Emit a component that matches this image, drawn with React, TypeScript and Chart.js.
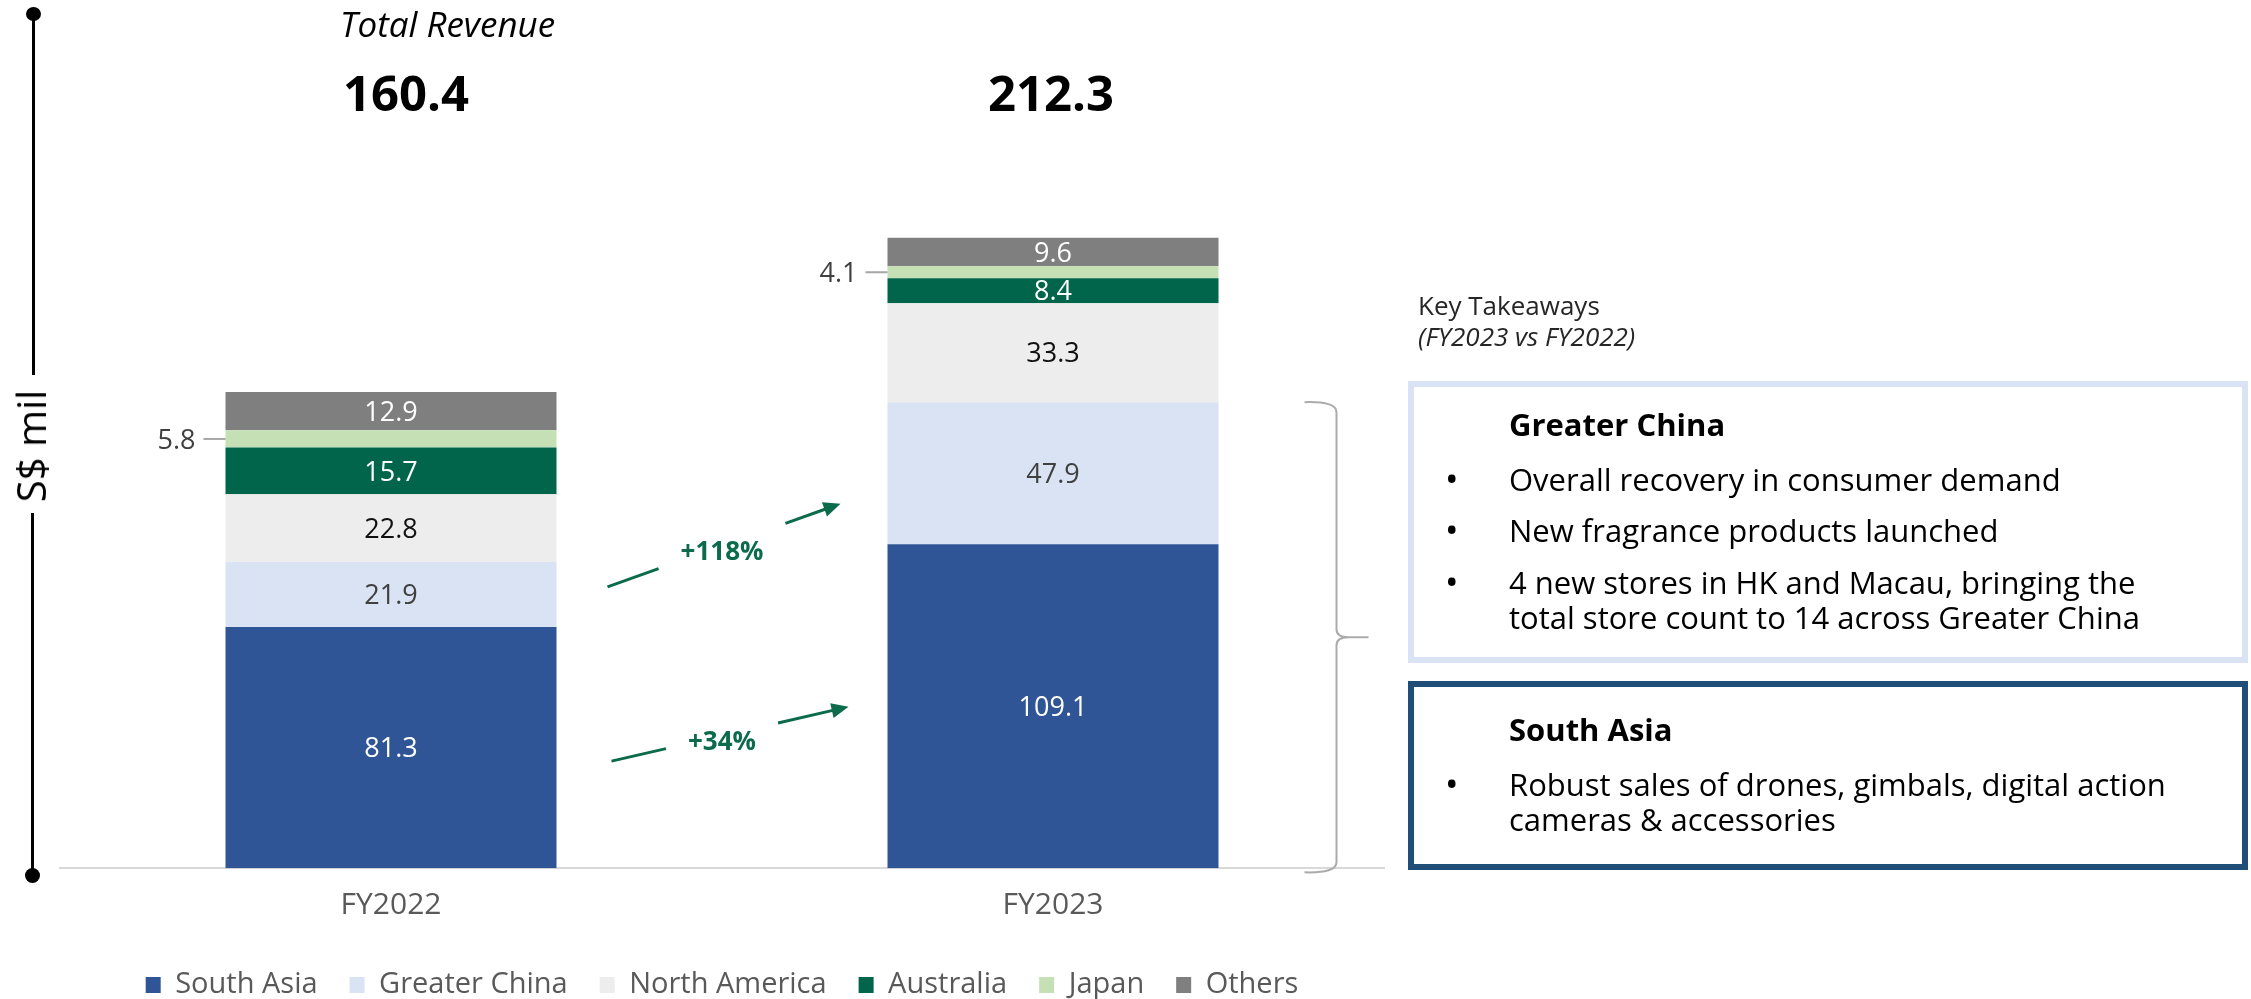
import React, { useEffect, useRef } from "react";
import { Chart, registerables } from "chart.js";

Chart.register(...registerables);

// ---------- data ----------
const categories = ["FY2022", "FY2023"];
const seriesNames = ["South Asia", "Greater China", "North America", "Australia", "Japan", "Others"];
const southAsia = [81.3, 109.1];
const greaterChina = [21.9, 47.9];
const northAmerica = [22.8, 33.3];
const australia = [15.7, 8.4];
const japan = [5.8, 4.1];
const others = [12.9, 9.6];
const totalRevenue = [160.4, 212.3];
const growthSouthAsia = "+34%";
const growthGreaterChina = "+118%";

// ---------- styles ----------
const FONT = "'Open Sans', 'Noto Sans', sans-serif";
const seriesColors = ["#2F5597", "#DAE3F3", "#EDEDED", "#00654A", "#C5E0B4", "#7F7F7F"];
const labelColors = ["#FFFFFF", "#404040", "#111111", "#FFFFFF", "#404040", "#FFFFFF"];
const totalOffsets = [15, -2];
const GREEN = "#0B6B4A";
const Y_MAX = 250;

const overlayPlugin = {
  id: "overlay",
  afterDatasetsDraw(chart: any) {
    const { ctx } = chart;
    const x = chart.scales.x;
    const y = chart.scales.y;
    ctx.save();

    // segment labels
    chart.data.datasets.forEach((ds: any, di: number) => {
      const meta = chart.getDatasetMeta(di);
      meta.data.forEach((bar: any, i: number) => {
        const v = ds.data[i] as number;
        const p = bar.getProps(["x", "y", "base", "width"], true);
        const cy = (p.y + p.base) / 2;
        const size = 27;
        ctx.font = `${size}px ${FONT}`;
        ctx.textBaseline = "alphabetic";
        const baseY = cy + 0.357 * size;
        if (di === 4) {
          const left = p.x - p.width / 2;
          ctx.strokeStyle = "#A6A6A6";
          ctx.lineWidth = 2;
          ctx.beginPath();
          ctx.moveTo(left - 22, cy);
          ctx.lineTo(left, cy);
          ctx.stroke();
          ctx.fillStyle = "#404040";
          ctx.textAlign = "right";
          ctx.fillText(v.toFixed(1), left - 30, baseY);
        } else {
          ctx.fillStyle = labelColors[di];
          ctx.textAlign = "center";
          ctx.fillText(v.toFixed(1), p.x, baseY);
        }
      });
    });

    // totals
    ctx.font = `bold 49px ${FONT}`;
    ctx.fillStyle = "#000000";
    ctx.textAlign = "center";
    totalRevenue.forEach((t, i) => {
      ctx.fillText(t.toFixed(1), x.getPixelForValue(i) + totalOffsets[i], 94 + 0.357 * 49);
    });

    // growth arrows
    const b0 = chart.getDatasetMeta(0).data[0].getProps(["x", "width"], true);
    const b1 = chart.getDatasetMeta(0).data[1].getProps(["x", "width"], true);
    const r0 = b0.x + b0.width / 2;
    const l1 = b1.x - b1.width / 2;
    const midX = (r0 + l1) / 2;
    const arrows = [
      { x0: r0 + 55, x1: l1 - 39, v0: 36.1, v1: 54.4, label: growthSouthAsia },
      { x0: r0 + 51, x1: l1 - 47, v0: 94.8, v1: 122.8, label: growthGreaterChina },
    ];
    arrows.forEach((a) => {
      const y0 = y.getPixelForValue(a.v0);
      const y1 = y.getPixelForValue(a.v1);
      const slope = (y1 - y0) / (a.x1 - a.x0);
      const lineY = (xx: number) => y0 + slope * (xx - a.x0);
      ctx.font = `bold 26px ${FONT}`;
      const tw = ctx.measureText(a.label).width;
      const g0 = midX - tw / 2 - 22;
      const g1 = midX + tw / 2 + 22;
      ctx.strokeStyle = GREEN;
      ctx.fillStyle = GREEN;
      ctx.lineWidth = 3;
      ctx.lineCap = "butt";
      ctx.beginPath();
      ctx.moveTo(a.x0, y0);
      ctx.lineTo(g0, lineY(g0));
      ctx.moveTo(g1, lineY(g1));
      const ang = Math.atan2(y1 - y0, a.x1 - a.x0);
      const headLen = 17;
      const hx = a.x1 - headLen * Math.cos(ang);
      const hy = y1 - headLen * Math.sin(ang);
      ctx.lineTo(hx + 2 * Math.cos(ang), hy + 2 * Math.sin(ang));
      ctx.stroke();
      const hw = 7.5;
      ctx.beginPath();
      ctx.moveTo(a.x1, y1);
      ctx.lineTo(hx + hw * Math.sin(ang), hy - hw * Math.cos(ang));
      ctx.lineTo(hx - hw * Math.sin(ang), hy + hw * Math.cos(ang));
      ctx.closePath();
      ctx.fill();
      ctx.textAlign = "center";
      ctx.fillText(a.label, midX, lineY(midX) + 5 + 0.357 * 26);
    });

    // curly brace next to FY2023 (Greater China + South Asia)
    const topY = y.getPixelForValue(southAsia[1] + greaterChina[1]);
    const botY = y.getPixelForValue(0) + 4;
    const r1 = b1.x + b1.width / 2;
    const xs = r1 + 86;
    const xv = r1 + 118;
    const xt = r1 + 150;
    const mid = (topY + botY) / 2;
    ctx.strokeStyle = "#ABABAB";
    ctx.lineWidth = 2;
    ctx.beginPath();
    ctx.moveTo(xs, topY);
    ctx.quadraticCurveTo(xv, topY - 1, xv, topY + 10);
    ctx.lineTo(xv, mid - 8);
    ctx.quadraticCurveTo(xv, mid, xv + 12, mid);
    ctx.lineTo(xt, mid);
    ctx.moveTo(xv + 12, mid);
    ctx.quadraticCurveTo(xv, mid, xv, mid + 8);
    ctx.lineTo(xv, botY - 10);
    ctx.quadraticCurveTo(xv, botY + 1, xs, botY);
    ctx.stroke();

    ctx.restore();
  },
};

function Txt(props: {
  left: number;
  cy: number;
  size: number;
  children: React.ReactNode;
  bold?: boolean;
  italic?: boolean;
  color?: string;
}) {
  const { left, cy, size, children, bold, italic, color } = props;
  return (
    <div
      style={{
        position: "absolute",
        left,
        top: cy - 0.56 * size,
        fontSize: size,
        lineHeight: 1,
        fontFamily: FONT,
        fontWeight: bold ? 700 : 400,
        fontStyle: italic ? "italic" : "normal",
        color: color || "#000",
        whiteSpace: "nowrap",
      }}
    >
      {children}
    </div>
  );
}

function Bullet(props: { cy: number }) {
  return (
    <Txt left={1445} cy={props.cy} size={36}>
      •
    </Txt>
  );
}

export default function App() {
  const canvasRef = useRef<HTMLCanvasElement | null>(null);

  useEffect(() => {
    if (!canvasRef.current) return;
    const seriesValues = [southAsia, greaterChina, northAmerica, australia, japan, others];
    const chart = new Chart(canvasRef.current, {
      type: "bar",
      data: {
        labels: categories,
        datasets: seriesNames.map((name, i) => ({
          label: name,
          data: seriesValues[i],
          backgroundColor: seriesColors[i],
          borderWidth: 0,
          barPercentage: 1,
          categoryPercentage: 0.5,
        })),
      },
      options: {
        animation: false,
        responsive: true,
        maintainAspectRatio: false,
        layout: { padding: { left: 60, right: 66, top: 126, bottom: 0.5 } },
        plugins: {
          tooltip: { enabled: false },
          legend: {
            position: "bottom",
            labels: {
              font: { family: FONT, size: 29 },
              color: "#595959",
              boxWidth: 15,
              boxHeight: 16,
              padding: 32,
            },
          },
        },
        scales: {
          x: {
            stacked: true,
            grid: { display: false, drawTicks: false },
            border: { display: true, color: "#D9D9D9", width: 2 },
            ticks: { font: { family: FONT, size: 30 }, color: "#595959", padding: 19 },
            afterFit: (scale: any) => {
              scale.height = 70.2;
            },
          },
          y: {
            stacked: true,
            display: false,
            min: 0,
            max: Y_MAX,
          },
        },
      },
      plugins: [overlayPlugin],
    } as any);
    return () => chart.destroy();
  }, []);

  return (
    <div style={{ position: "absolute", left: 0, top: 0, width: 2251, height: 999, overflow: "hidden", background: "#fff" }}>
      <div style={{ position: "absolute", left: 0, top: 0, width: 1450, height: 1010 }}>
        <canvas ref={canvasRef} />
      </div>

      {/* left axis decoration */}
      <div style={{ position: "absolute", left: 26, top: 7, width: 15, height: 14, borderRadius: "50%", background: "#000" }} />
      <div style={{ position: "absolute", left: 32, top: 14, width: 3, height: 361, background: "#000" }} />
      <div
        style={{
          position: "absolute",
          left: 31,
          top: 446,
          transform: "translate(-50%, -50%) rotate(-90deg)",
          fontFamily: FONT,
          fontSize: 40,
          lineHeight: 1,
          whiteSpace: "nowrap",
          color: "#000",
        }}
      >
        S$ mil
      </div>
      <div style={{ position: "absolute", left: 31, top: 513, width: 3, height: 362, background: "#000" }} />
      <div style={{ position: "absolute", left: 25, top: 868, width: 15, height: 15, borderRadius: "50%", background: "#000" }} />

      {/* header */}
      <Txt left={340} cy={26} size={35} italic>
        Total Revenue
      </Txt>

      {/* key takeaways */}
      <Txt left={1418} cy={307} size={26} color="#262626">
        Key Takeaways
      </Txt>
      <Txt left={1418} cy={338} size={26} italic color="#262626">
        (FY2023 vs FY2022)
      </Txt>

      <div
        style={{
          position: "absolute",
          left: 1408,
          top: 381,
          width: 840,
          height: 282,
          boxSizing: "border-box",
          border: "6px solid #DAE3F3",
        }}
      />
      <Txt left={1509} cy={426} size={31} bold>
        Greater China
      </Txt>
      <Bullet cy={481} />
      <Txt left={1509} cy={481} size={31}>
        Overall recovery in consumer demand
      </Txt>
      <Bullet cy={532} />
      <Txt left={1509} cy={532} size={31}>
        New fragrance products launched
      </Txt>
      <Bullet cy={584} />
      <Txt left={1509} cy={584} size={31}>
        4 new stores in HK and Macau, bringing the
      </Txt>
      <Txt left={1509} cy={619} size={31}>
        total store count to 14 across Greater China
      </Txt>

      <div
        style={{
          position: "absolute",
          left: 1408,
          top: 681,
          width: 840,
          height: 189,
          boxSizing: "border-box",
          border: "6px solid #1F4E79",
        }}
      />
      <Txt left={1509} cy={731} size={31} bold>
        South Asia
      </Txt>
      <Bullet cy={786} />
      <Txt left={1509} cy={786} size={31}>
        Robust sales of drones, gimbals, digital action
      </Txt>
      <Txt left={1509} cy={821} size={31}>
        cameras &amp; accessories
      </Txt>
    </div>
  );
}
